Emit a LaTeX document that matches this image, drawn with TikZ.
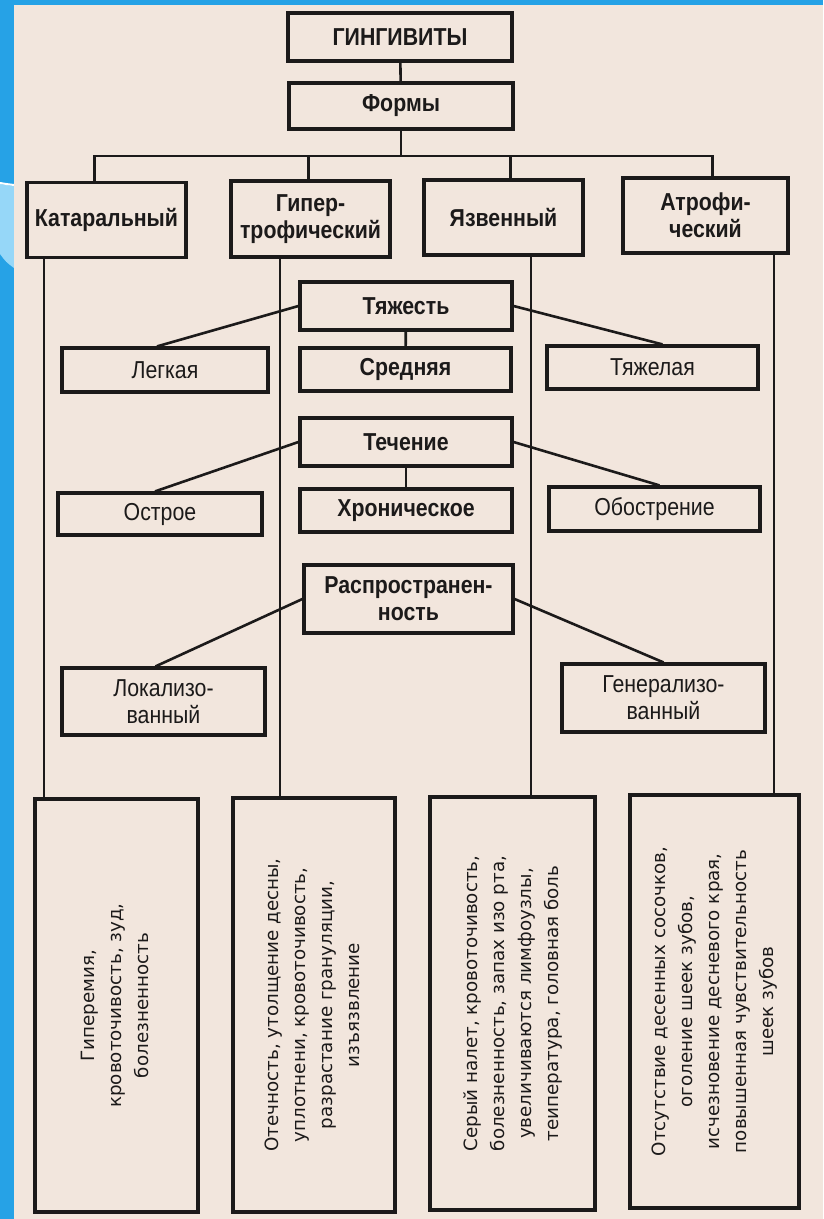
\documentclass[tikz,border=0pt]{standalone}
\usepackage{fontspec}
\setmainfont{DejaVu Sans}
\newfontfamily\headfont[FakeStretch=0.87]{Liberation Sans}
\newfontfamily\bodyfont{DejaVu Sans}
\definecolor{paper}{RGB}{242,230,221}
\definecolor{ink}{RGB}{28,26,26}
\definecolor{slide}{RGB}{38,162,230}
\definecolor{swoosh}{RGB}{150,215,248}

\begin{document}
\begin{tikzpicture}[x=1pt, y=-1pt,
    box/.style={rectangle, draw=ink, line width=3.2pt, text=ink, align=center, inner sep=2pt, font=\headfont\fontsize{24.5}{27}\selectfont},
    boldbox/.style={box, font=\headfont\bfseries\fontsize{24.5}{27}\selectfont},
    signbox/.style={box, font=\bodyfont\fontsize{18.3}{27}\selectfont},
    link/.style={draw=ink, line width=2.6pt}
]

% Background
\useasboundingbox (0,0) rectangle (823,1219);
\fill[slide] (0,0) rectangle (823,1219);
\fill[swoosh] (0,184) .. controls (6,185) .. (14,186) -- (14,268) .. controls (6,262) .. (0,254) -- cycle;
\draw[white, line width=2pt] (0,183) .. controls (6,184) .. (14,185);
\fill[paper] (14,5) rectangle (823,1219);

\node[boldbox, minimum width=224, minimum height=48] (ging) at (400,37) {ГИНГИВИТЫ};
\node[boldbox, minimum width=224, minimum height=46] (formy) at (401,106) {Формы};

\node[boldbox, minimum width=159, minimum height=75] (kataral) at (106.5,220) {Катаральный};
\node[boldbox, minimum width=159, minimum height=76] (giper) at (310.5,219) {Гипер-\\трофический};
\node[boldbox, minimum width=159, minimum height=75] (yazv) at (503.5,217.5) {Язвенный};
\node[boldbox, minimum width=165, minimum height=75] (atrof) at (705.5,215.5) {Атрофи-\\ческий};

\node[boldbox, minimum width=212, minimum height=48] (tyazh) at (406,306) {Тяжесть};
\node[box, minimum width=206, minimum height=44] (legk) at (165,370) {Легкая};
\node[boldbox, minimum width=211, minimum height=43] (sredn) at (405.5,369.5) {Средняя};
\node[box, minimum width=211, minimum height=43] (tyazhel) at (652.5,367.5) {Тяжелая};

\node[boldbox, minimum width=212, minimum height=48] (tech) at (406,442) {Течение};
\node[box, minimum width=204, minimum height=42] (ostr) at (160,514) {Острое};
\node[boldbox, minimum width=212, minimum height=43] (hron) at (406,510.5) {Хроническое};
\node[box, minimum width=211, minimum height=44] (obostr) at (654.5,509) {Обострение};

\node[boldbox, minimum width=209, minimum height=68] (rasp) at (408.5,599) {Распространен-\\ность};
\node[box, minimum width=203, minimum height=67] (lokal) at (163.5,701.5) {Локализо-\\ванный};
\node[box, minimum width=203, minimum height=68] (gener) at (663.5,698) {Генерализо-\\ванный};

\node[signbox, minimum width=163, minimum height=413] (b1) at (116.5,1005.5) {\rotatebox{90}{\begin{tabular}{@{}c@{}}
Гиперемия,\\кровоточивость, зуд,\\болезненность\end{tabular}}};
\node[signbox, minimum width=162, minimum height=414] (b2) at (314,1005) {\rotatebox{90}{\begin{tabular}{@{}c@{}}
Отечность, утолщение десны,\\уплотнени, кровоточивость,\\разрастание грануляции,\\изъязвление\end{tabular}}};
\node[signbox, minimum width=165, minimum height=413] (b3) at (512.5,1003.5) {\rotatebox{90}{\begin{tabular}{@{}c@{}}
Серый налет, кровоточивость,\\болезненность, запах изо рта,\\увеличиваются лимфоузлы,\\теипература, головная боль\end{tabular}}};
\node[signbox, minimum width=169, minimum height=413] (b4) at (714.5,1001.5) {\rotatebox{90}{\begin{tabular}{@{}c@{}}
Отсутствие десенных сосочков,\\оголение шеек зубов,\\исчезновение десневого края,\\повышенная чувствительность\\шеек зубов\end{tabular}}};

% Connections
\draw[link] (ging) -- (formy);
\coordinate (bus) at (401,156);
\draw[link] (formy.south) -- (bus);
\foreach \n/\s in {kataral/-12, giper/-2, yazv/7, atrof/7}
    \draw[link] (bus) -| ([xshift=\s]\n.north);

\foreach \t/\b/\x [count=\i] in {kataral/b1/44, giper/b2/280, yazv/b3/531, atrof/b4/774} {
    \coordinate (sp\i) at (\x,0);
    \draw[link] (\t.south -| sp\i) -- (\b.north -| sp\i);
}

\draw[link] (tyazh) -- (sredn);
\draw[link] (tech) -- (hron);
\foreach \a/\b/\s in {tyazh.west/legk/-8, tyazh.east/tyazhel/10, tech.west/ostr/-5, tech.east/obostr/5, rasp.west/lokal/-8, rasp.east/gener/0}
    \draw[link] (\a) -- ([xshift=\s]\b.north);

\end{tikzpicture}
\end{document}
